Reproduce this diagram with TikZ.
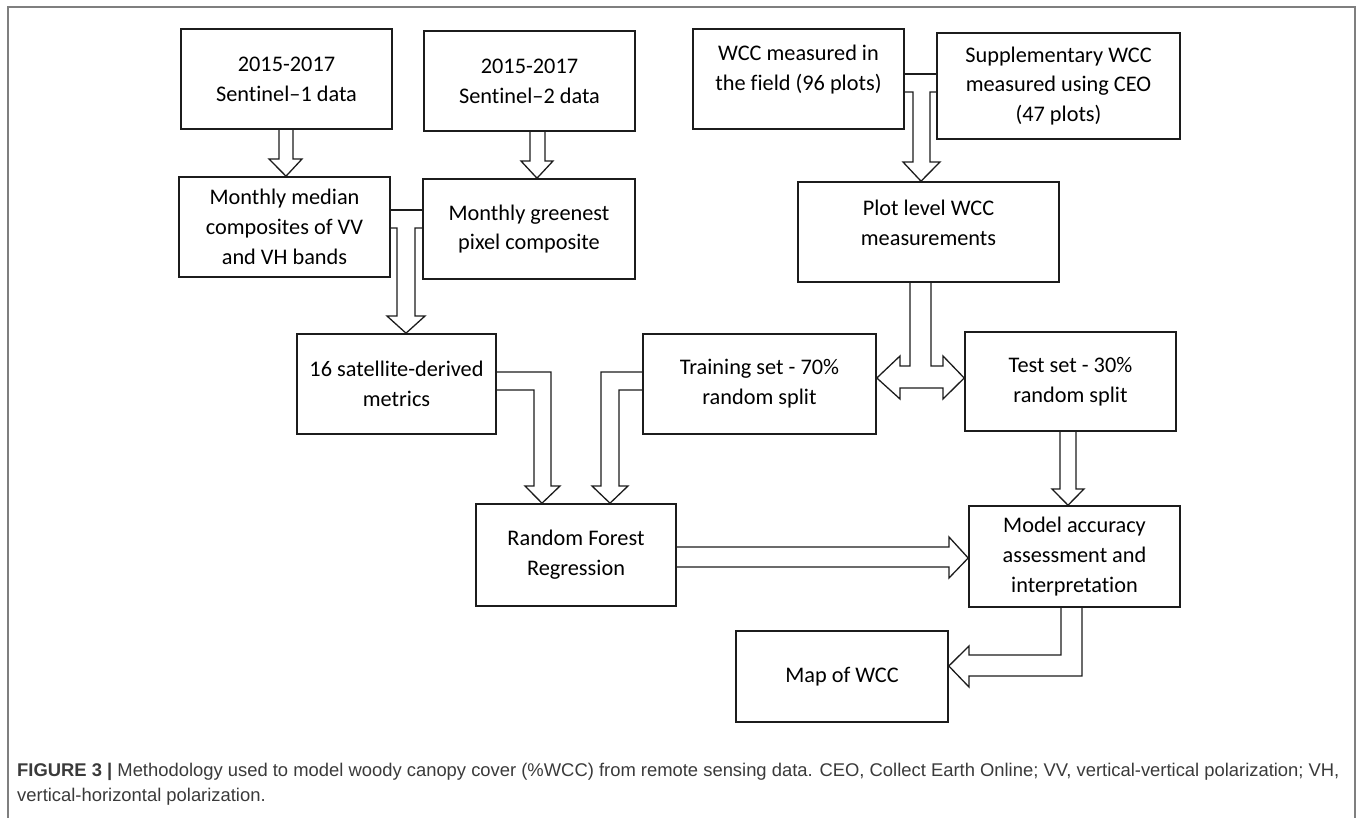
\documentclass[tikz,border=0pt]{standalone}
\usepackage{fontspec}
\setmainfont{Carlito}[Ligatures=NoCommon]
\newfontfamily\captionfont{Liberation Sans}
\usepackage{xcolor}
\definecolor{lineBlack}{HTML}{1C1C1C}
\definecolor{frameGray}{HTML}{7F7F7F}
\definecolor{captionGray}{HTML}{3A3A3A}
\tikzset{
    procbox/.style={
        rectangle,
        draw=lineBlack,
        line width=1.6pt,
        fill=white,
        align=center,
        inner sep=0pt,
        font=\fontsize{22.3}{29.8}\selectfont,
        minimum width=211pt,
        minimum height=100pt
    },
    blockarrow/.style={draw=lineBlack, line width=1.3pt, line join=miter},
    figcaption/.style={
        align=left,
        inner sep=0pt,
        text=captionGray,
        font=\captionfont\fontsize{18.4}{25}\selectfont
    }
}

\begin{document}
\begin{tikzpicture}[x=1pt, y=-1pt]
    \useasboundingbox (0,0) rectangle (1358,818);
    \draw[frameGray, line width=1.5pt] (8,830) -- (8,7) -- (1355,7) -- (1355,830);

    % satellite branch
    \node[procbox] (sone) at (286.5,79) {2015-2017\\Sentinel--1 data};
    \node[procbox] (stwo) at (529.5,81) {2015-2017\\Sentinel--2 data};
    \node[procbox] (median) at (284.5,227)
        {Monthly median\\composites of VV\\and VH bands};
    \node[procbox, minimum width=212pt] (greenest) at (529,229)
        {Monthly greenest\\pixel composite};
    \node[procbox, minimum width=199pt] (metrics) at (396.5,384)
        {16 satellite-derived\\metrics};
    \node[procbox, minimum width=200pt, minimum height=102pt] (forest)
        at (576,555) {Random Forest\\Regression};

    % field branch
    \node[procbox, text depth=23pt] (field) at (798.5,79)
        {WCC measured in\\the field (96 plots)};
    \node[procbox, minimum width=243pt, minimum height=106pt] (ceo)
        at (1058.5,86) {Supplementary WCC\\measured using CEO\\(47 plots)};
    \node[procbox, minimum width=261pt, text depth=19pt] (plotwcc)
        at (928.5,232) {Plot level WCC\\measurements};
    \node[procbox, minimum width=233pt] (training) at (759.5,384)
        {Training set - 70\%\\random split};
    \node[procbox, minimum height=99pt] (test) at (1070.5,381.5)
        {Test set - 30\%\\random split};
    \node[procbox, minimum height=101pt] (accuracy) at (1074.5,556.5)
        {Model accuracy\\assessment and\\interpretation};
    \node[procbox, minimum width=212pt, minimum height=91pt] (wccmap)
        at (842,676.5) {Map of WCC};

    % block arrows
    \draw[blockarrow] (279,0 |- sone.south) -- (279,159) -- (269,159)
        -- (286,0 |- median.north) -- (302,159) -- (293,159)
        -- (293,0 |- sone.south);
    \draw[blockarrow] (530,0 |- stwo.south) -- (530,161) -- (521,161)
        -- (537,0 |- greenest.north) -- (553,161) -- (545,161)
        -- (545,0 |- stwo.south);
    \draw[blockarrow] (median.east |- 0,210) -- (greenest.west |- 0,210);
    \draw[blockarrow] (median.east |- 0,228) -- (397,228) -- (397,316)
        -- (387,316) -- (406,0 |- metrics.north) -- (425,316) -- (415,316)
        -- (415,228) -- (greenest.west |- 0,228);
    \draw[blockarrow] (field.east |- 0,74) -- (ceo.west |- 0,74);
    \draw[blockarrow] (field.east |- 0,92) -- (913,92) -- (913,162)
        -- (903,162) -- (921,0 |- plotwcc.north) -- (940,162) -- (930,162)
        -- (930,92) -- (ceo.west |- 0,92);
    \draw[blockarrow] (910,0 |- plotwcc.south) -- (910,366) -- (900,366)
        -- (900,356) -- (training.east |- 0,378) -- (900,399) -- (900,388)
        -- (943,388) -- (943,399) -- (test.west |- 0,378) -- (943,356)
        -- (943,366) -- (931,366) -- (931,0 |- plotwcc.south);
    \draw[blockarrow] (metrics.east |- 0,372) -- (551,372) -- (551,486)
        -- (560,486) -- (542,0 |- forest.north) -- (525,486) -- (534,486)
        -- (534,390) -- (metrics.east |- 0,390);
    \draw[blockarrow] (training.west |- 0,372) -- (601,372) -- (601,486)
        -- (592,486) -- (610,0 |- forest.north) -- (628,486) -- (619,486)
        -- (619,390) -- (training.west |- 0,390);
    \draw[blockarrow] (forest.east |- 0,547) -- (949,547) -- (949,537)
        -- (accuracy.west |- 0,558) -- (949,578) -- (949,567)
        -- (forest.east |- 0,567);
    \draw[blockarrow] (1060,0 |- test.south) -- (1060,489) -- (1052,489)
        -- (1068,0 |- accuracy.north) -- (1084,489) -- (1076,489)
        -- (1076,0 |- test.south);
    \draw[blockarrow] (1061,0 |- accuracy.south) -- (1061,655) -- (969,655)
        -- (969,646) -- (wccmap.east |- 0,666) -- (969,687) -- (969,676)
        -- (1082,676) -- (1082,0 |- accuracy.south);

    % caption
    \node[figcaption, anchor=north west] (caption) at (17,763)
        {\textbf{FIGURE 3 |} Methodology used to model woody canopy cover
        (\%WCC) from remote sensing data. CEO, Collect Earth Online; VV,
        vertical-vertical polarization; VH,\\vertical-horizontal polarization.};
\end{tikzpicture}
\end{document}
